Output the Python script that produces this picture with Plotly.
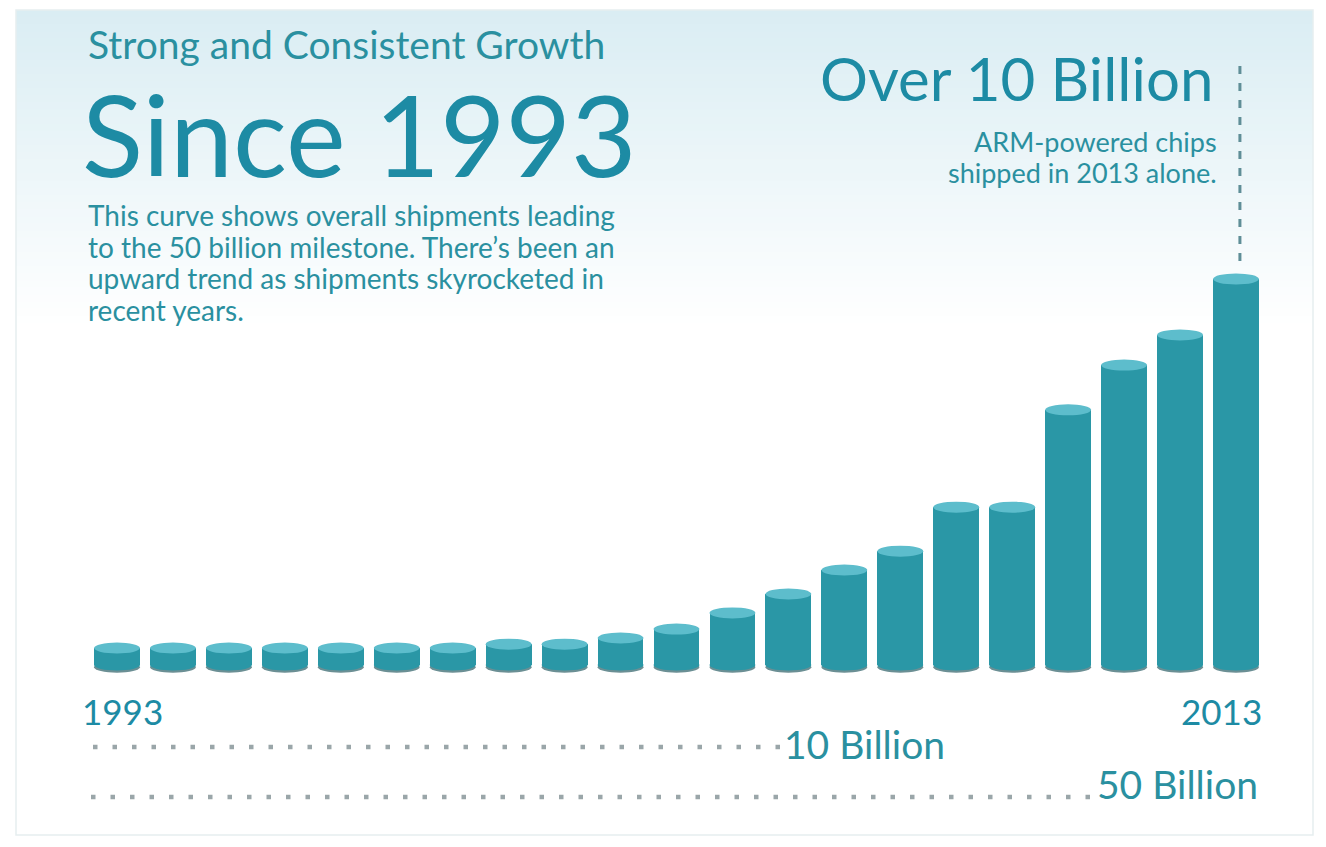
import plotly.graph_objects as go

# ---------------- data ----------------
years = list(range(1993, 2014))
# visual bar heights (billions of ARM-based chips)
shipments = [0.44, 0.44, 0.44, 0.44, 0.44, 0.44, 0.44, 0.54, 0.54, 0.70,
             0.93, 1.35, 1.84, 2.46, 2.95, 4.09, 4.09, 6.61, 7.77, 8.55, 10.0]
start_label = "1993"
end_label = "2013"
milestone_labels = ["10 Billion", "50 Billion"]
intro_lines = ["This curve shows overall shipments leading",
               "to the 50 billion milestone. There’s been an",
               "upward trend as shipments skyrocketed in",
               "recent years."]
note_lines = ["ARM-powered chips", "shipped in 2013 alone."]

# ---------------- geometry / style ----------------
PAGE_W, PAGE_H = 1326, 847
OFF = 8                      # default page margin of the html body
W, H = PAGE_W - OFF, PAGE_H - OFF
PX_FIRST = 117.0      # page pixel centre of the first bar
PX_STEP = 55.95       # pixel distance between bars
PY_BASE = 665.0       # page pixel of the value 0
PY_UNIT = 38.6        # pixels per unit

def xdata(px):
    return years[0] + (px - PX_FIRST) / PX_STEP

def ydata(py):
    return (PY_BASE - py) / PY_UNIT

def xp(px):
    return (px - OFF) / W

def yp(py):
    return 1 - (py - OFF) / H

BODY = "#2a97a6"
TOP = "#5dbdcc"
RIM = "#6b8f94"
TEAL = "#1d8ba4"
TEAL2 = "#2a90a0"
GREY = "#9aa6a9"
FONT = "Lato"

bar_w = 0.82
ry = 5.5 / PY_UNIT

fig = go.Figure()
fig.add_trace(go.Bar(
    x=years, y=shipments, base=0, width=bar_w,
    marker=dict(color=BODY, line=dict(width=0)),
    hoverinfo="x+y", showlegend=False,
))

shapes = []
top_c = (218, 237, 243)
n = 45
g0, g1 = 10, 330
for i in range(n):
    t = i / (n - 1)
    c = tuple(int(round(top_c[k] + (255 - top_c[k]) * t)) for k in range(3))
    y_a = g0 + (g1 - g0) * i / n
    y_b = g0 + (g1 - g0) * (i + 1) / n + 1
    shapes.append(dict(type="rect", xref="paper", yref="paper",
                       x0=xp(16), x1=xp(1313), y0=yp(y_b), y1=yp(y_a),
                       fillcolor="rgb(%d,%d,%d)" % c, line=dict(width=0),
                       layer="below"))
# panel border
shapes.append(dict(type="rect", xref="paper", yref="paper",
                   x0=xp(16), x1=xp(1313), y0=yp(835), y1=yp(10),
                   fillcolor="rgba(0,0,0,0)",
                   line=dict(width=1.5, color="#e6eef0"), layer="below"))

# cylinder bottoms and tops
for yr, v in zip(years, shipments):
    shapes.append(dict(type="circle", xref="x", yref="y",
                       x0=yr - bar_w / 2, x1=yr + bar_w / 2,
                       y0=-ry - 2.2 / PY_UNIT, y1=ry - 2.2 / PY_UNIT,
                       fillcolor=RIM, line=dict(width=0), layer="below"))
    shapes.append(dict(type="circle", xref="x", yref="y",
                       x0=yr - bar_w / 2, x1=yr + bar_w / 2,
                       y0=-ry, y1=ry,
                       fillcolor=BODY, line=dict(width=0), layer="below"))
    shapes.append(dict(type="circle", xref="x", yref="y",
                       x0=yr - bar_w / 2, x1=yr + bar_w / 2,
                       y0=v - ry, y1=v + ry,
                       fillcolor=TOP, line=dict(width=0), layer="above"))

# vertical dashed pointer above the last bar
shapes.append(dict(type="line", xref="x", yref="paper",
                   x0=years[-1] + 0.07, x1=years[-1] + 0.07,
                   y0=yp(66), y1=yp(268),
                   line=dict(color="#5f8e97", width=3, dash="8px,9px")))

# dotted milestone lines
dot_rows = [(747, 93, 781), (797, 91, 1096)]
for py, pa, pb in dot_rows:
    shapes.append(dict(type="line", xref="paper", yref="paper",
                       x0=xp(pa), x1=xp(pb), y0=yp(py), y1=yp(py),
                       line=dict(color=GREY, width=4.5, dash="4.5px,15px")))

ann = []
def text(s, px, py, size, color, xanchor="left", align="left", yanchor="middle"):
    ann.append(dict(text=s, x=xp(px), y=yp(py), xref="paper", yref="paper",
                    xanchor=xanchor, yanchor=yanchor, align=align,
                    showarrow=False,
                    font=dict(family=FONT, size=size, color=color)))

text("Strong and Consistent Growth", 86, 44, 39, TEAL2)
text("Since 1993", 80, 133, 113, TEAL)
for i, line in enumerate(intro_lines):
    text(line, 86, 215 + 31.5 * i, 28, TEAL2)
text("Over 10 Billion", 1215, 78, 60, TEAL, xanchor="right")
for i, line in enumerate(note_lines):
    text(line, 1219, 141 + 32 * i, 27, TEAL2, xanchor="right")
text(start_label, 80, 711, 35, TEAL)
text(end_label, 1264, 711, 35, TEAL, xanchor="right")
text(milestone_labels[0], 782, 744, 39, TEAL2)
text(milestone_labels[1], 1095, 784, 39, TEAL2)

fig.update_layout(
    width=W, height=H,
    margin=dict(l=0, r=0, t=0, b=0),
    paper_bgcolor="#ffffff", plot_bgcolor="rgba(0,0,0,0)",
    xaxis=dict(range=[xdata(OFF), xdata(PAGE_W)], visible=False, fixedrange=True),
    yaxis=dict(range=[ydata(PAGE_H), ydata(OFF)], visible=False, fixedrange=True),
    shapes=shapes, annotations=ann, bargap=0,
    showlegend=False,
)

fig.write_html("out.html", config={"displayModeBar": False})
